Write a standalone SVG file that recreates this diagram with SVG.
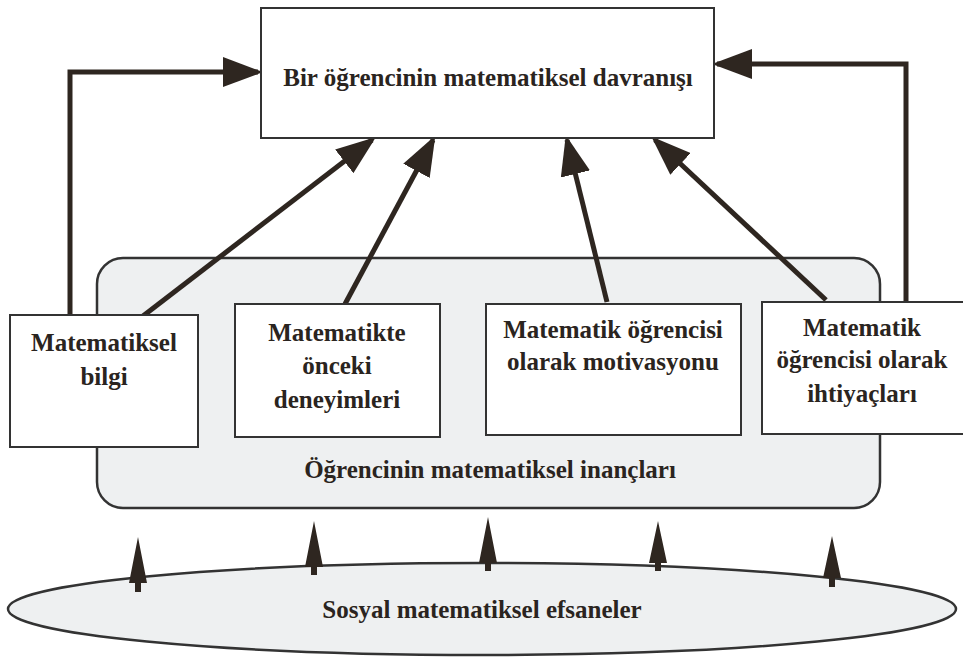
<svg xmlns="http://www.w3.org/2000/svg" width="963" height="660" viewBox="0 0 963 660">
<style>
.box{fill:#fff;stroke:#333;stroke-width:2}
.t{font-family:"Liberation Serif","Times New Roman",serif;font-weight:bold;font-size:25px;fill:#2a2420;text-anchor:middle}
.c{fill:none;stroke:#2e2620;stroke-width:5}
.sa{fill:#2e2620}
</style>
<defs>
<marker id="ah" markerWidth="8" markerHeight="6" refX="7" refY="3" orient="auto" markerUnits="strokeWidth">
<path d="M0,0 L8,3 L0,6 z" fill="#2e2620"/>
</marker>
</defs>
<rect width="963" height="660" fill="#fff"/>
<g id="inanclar">
<rect x="97" y="258" width="783" height="250" rx="26" fill="#eef0f1" stroke="#333" stroke-width="2.5"/>
<text class="t" x="490" y="478">Öğrencinin matematiksel inançları</text>
</g>
<g id="efsaneler">
<ellipse cx="482" cy="609" rx="474" ry="46" fill="#eef0f1" stroke="#333" stroke-width="2.5"/>
<text class="t" x="482" y="618">Sosyal matematiksel efsaneler</text>
</g>
<g id="connectors">
<path class="c" d="M70,316 V72 H258" marker-end="url(#ah)"/>
<path class="c" d="M906,302 V64 H717" marker-end="url(#ah)"/>
<path class="c" d="M143,316 L372,140" marker-end="url(#ah)"/>
<path class="c" d="M345,304 L433,140" marker-end="url(#ah)"/>
<path class="c" d="M607,302 L567,140" marker-end="url(#ah)"/>
<path class="c" d="M826,300 L655,140" marker-end="url(#ah)"/>
<path class="sa" d="M138,537 L147,583 L141,583 L141,592 L135,592 L135,583 L129,583 Z"/>
<path class="sa" d="M314,521 L323,567 L317,567 L317,575 L311,575 L311,567 L305,567 Z"/>
<path class="sa" d="M488,517 L497,563 L491,563 L491,571 L485,571 L485,563 L479,563 Z"/>
<path class="sa" d="M658,521 L667,563 L661,563 L661,571 L655,571 L655,563 L649,563 Z"/>
<path class="sa" d="M832,536 L841,578 L835,578 L835,587 L829,587 L829,578 L823,578 Z"/>
</g>
<g id="davranis">
<rect class="box" x="261" y="8" width="453" height="130"/>
<text class="t" x="488" y="86">Bir öğrencinin matematiksel davranışı</text>
</g>
<g id="bilgi">
<rect class="box" x="10" y="315" width="188" height="132"/>
<text class="t" x="104" y="351">Matematiksel</text>
<text class="t" x="104" y="385">bilgi</text>
</g>
<g id="deneyim">
<rect class="box" x="235" y="304" width="205" height="133"/>
<text class="t" x="337" y="341">Matematikte</text>
<text class="t" x="337" y="374">önceki</text>
<text class="t" x="337" y="408">deneyimleri</text>
</g>
<g id="motivasyon">
<rect class="box" x="486" y="304" width="255" height="131"/>
<text class="t" x="613" y="338">Matematik öğrencisi</text>
<text class="t" x="613" y="370">olarak motivasyonu</text>
</g>
<g id="ihtiyac">
<rect class="box" x="762" y="302" width="205" height="132"/>
<text class="t" x="862" y="336">Matematik</text>
<text class="t" x="862" y="368">öğrencisi olarak</text>
<text class="t" x="862" y="402">ihtiyaçları</text>
</g>
</svg>
